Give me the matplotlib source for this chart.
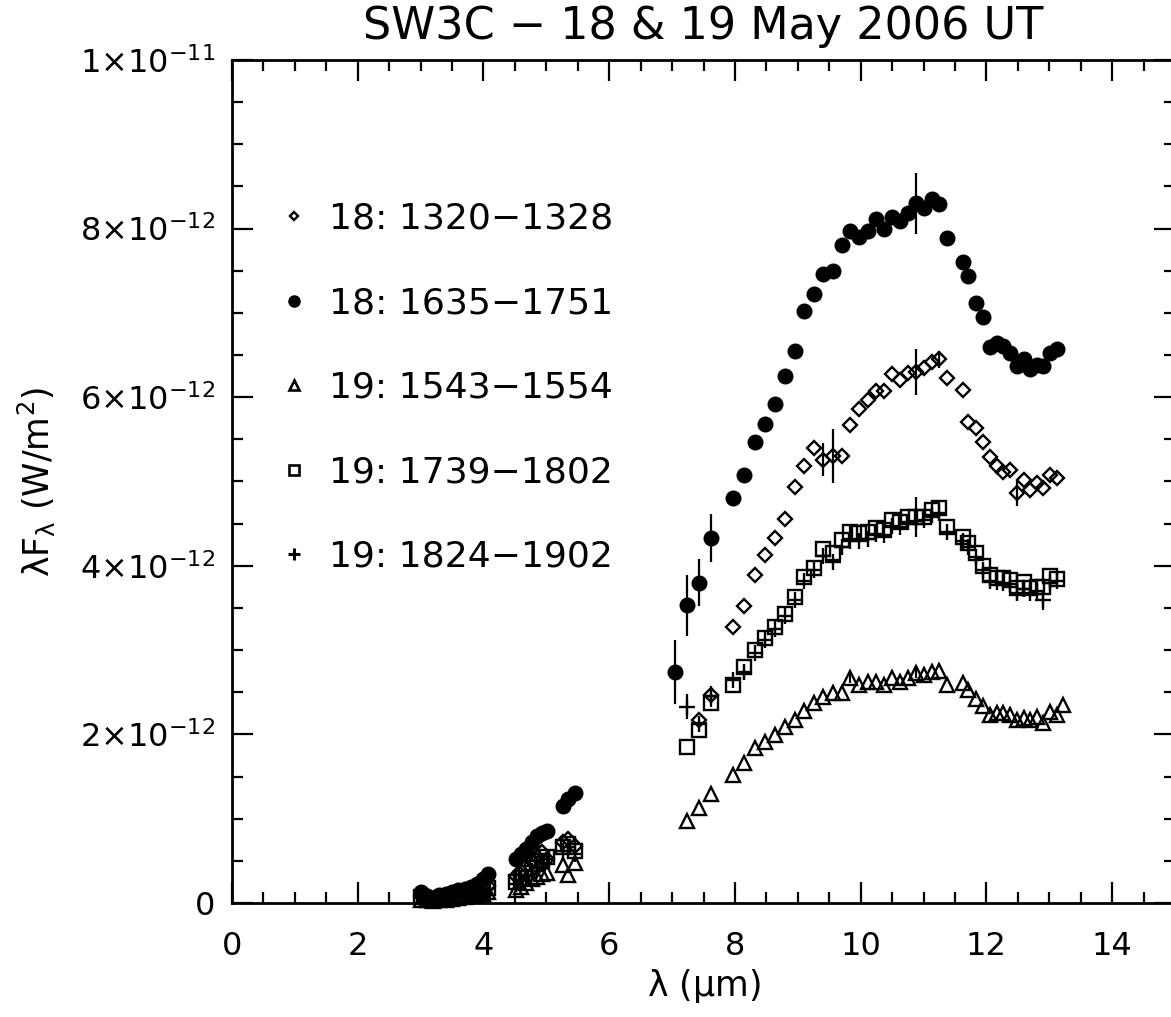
import numpy as np
import matplotlib
matplotlib.use("Agg")
import matplotlib.pyplot as plt
from matplotlib.lines import Line2D
from matplotlib.ticker import FixedLocator, FuncFormatter

plt.rcParams['font.family'] = ['DejaVu Sans']
plt.rcParams['mathtext.default'] = 'regular'
plt.rcParams['mathtext.fontset'] = 'dejavusans'

nan = np.nan

# wavelength grid (micron): 3-4 um, 4.5-5.5 um, 7-13 um segments
wl_short = [3.00, 3.10, 3.20, 3.30, 3.40, 3.50, 3.60, 3.70, 3.80, 3.90, 4.00, 4.07]
wl_mid = [4.52, 4.60, 4.68, 4.77, 4.85, 4.93, 5.01, 5.27, 5.35, 5.45]
wl_long = [7.05, 7.24, 7.43, 7.62, 7.97, 8.15, 8.32, 8.48, 8.64, 8.80,
           8.96, 9.10, 9.25, 9.40, 9.56, 9.71, 9.83, 9.98, 10.11, 10.24,
           10.37, 10.50, 10.63, 10.76, 10.88, 11.01, 11.14, 11.25, 11.38, 11.62,
           11.71, 11.84, 11.95, 12.06, 12.17, 12.27, 12.38, 12.49, 12.60, 12.70,
           12.81, 12.90, 13.01, 13.12, 13.22]

# lambda F_lambda in units of 1e-12 W/m^2
# 18: 1320-1328 (diamond)
d18a_short = [0.08, 0.05, 0.04, 0.06, 0.08, 0.09, 0.10, 0.12, 0.13, 0.15, 0.18, 0.20]
d18a_mid = [0.32, 0.38, 0.44, 0.50, 0.55, 0.60, 0.52, 0.72, 0.76, 0.68]
d18a_long = [nan, nan, 2.17, 2.47, 3.27, 3.52, 3.89, 4.13, 4.33, 4.56,
             4.93, 5.18, 5.40, 5.26, 5.30, 5.30, 5.67, 5.86, 5.97, 6.07,
             6.07, 6.27, 6.20, 6.29, 6.30, 6.35, 6.42, 6.45, 6.23, 6.09,
             5.71, 5.63, 5.47, 5.29, 5.18, 5.11, 5.14, 4.86, 5.02, 4.90,
             4.98, 4.92, 5.08, 5.04, nan]
# 18: 1635-1751 (filled circle)
d18b_short = [0.13, 0.08, 0.06, 0.09, 0.11, 0.13, 0.15, 0.17, 0.19, 0.22, 0.28, 0.34]
d18b_mid = [0.52, 0.58, 0.64, 0.72, 0.80, 0.83, 0.86, 1.15, 1.23, 1.30]
d18b_long = [2.74, 3.53, 3.80, 4.33, 4.80, 5.08, 5.47, 5.68, 5.92, 6.25,
             6.55, 7.02, 7.22, 7.46, 7.50, 7.80, 7.97, 7.90, 7.97, 8.11,
             7.99, 8.14, 8.09, 8.18, 8.30, 8.24, 8.35, 8.29, 7.89, 7.60,
             7.44, 7.12, 6.95, 6.60, 6.64, 6.61, 6.52, 6.37, 6.45, 6.33,
             6.38, 6.37, 6.52, 6.57, nan]
# 19: 1543-1554 (triangle)
d19a_short = [0.04, 0.03, 0.02, 0.03, 0.04, 0.05, 0.06, 0.07, 0.08, 0.09, 0.11, 0.13]
d19a_mid = [0.15, 0.19, 0.24, 0.28, 0.31, 0.34, 0.36, 0.45, 0.33, 0.48]
d19a_long = [nan, 0.97, 1.13, 1.29, 1.52, 1.66, 1.84, 1.91, 1.99, 2.09,
             2.17, 2.28, 2.37, 2.44, 2.49, 2.49, 2.67, 2.59, 2.62, 2.62,
             2.59, 2.67, 2.62, 2.67, 2.73, 2.70, 2.74, 2.75, 2.59, 2.61,
             2.53, 2.42, 2.34, 2.23, 2.25, 2.25, 2.23, 2.17, 2.20, 2.17,
             2.21, 2.13, 2.27, 2.23, 2.35]
# 19: 1739-1802 (square)
d19b_short = [0.07, 0.05, 0.04, 0.05, 0.07, 0.08, 0.09, 0.10, 0.12, 0.13, 0.16, 0.18]
d19b_mid = [0.25, 0.30, 0.35, 0.41, 0.46, 0.50, 0.55, 0.66, 0.70, 0.62]
d19b_long = [nan, 1.85, 2.05, 2.37, 2.59, 2.80, 3.00, 3.14, 3.27, 3.43,
             3.63, 3.87, 3.97, 4.20, 4.15, 4.31, 4.40, 4.39, 4.40, 4.45,
             4.43, 4.54, 4.52, 4.58, 4.58, 4.58, 4.66, 4.69, 4.46, 4.34,
             4.27, 4.15, 4.00, 3.89, 3.85, 3.85, 3.83, 3.74, 3.81, 3.74,
             3.75, 3.75, 3.88, 3.84, nan]
# 19: 1824-1902 (plus)
d19c_short = [0.06, 0.04, 0.03, 0.05, 0.06, 0.07, 0.08, 0.09, 0.11, 0.12, 0.15, 0.17]
d19c_mid = [0.22, 0.27, 0.32, 0.38, 0.43, 0.47, 0.52, 0.62, 0.67, 0.58]
d19c_long = [nan, 2.33, 2.12, 2.45, 2.65, 2.74, 2.97, 3.12, 3.25, 3.40,
             3.60, 3.82, 3.95, 4.12, 4.04, 4.22, 4.30, 4.30, 4.32, 4.38,
             4.36, 4.47, 4.46, 4.52, 4.53, 4.54, 4.60, 4.63, 4.40, 4.30,
             4.22, 4.10, 3.95, 3.82, 3.81, 3.80, 3.78, 3.68, 3.72, 3.68,
             3.70, 3.59, 3.80, 3.82, nan]

# visible error bars (1e-12 W/m^2), only on a few points of the long segment
err_18b = {7.05: 0.38, 7.24: 0.36, 7.43: 0.28, 7.62: 0.28, 7.97: 0.08,
           8.15: 0.08, 9.56: 0.08, 9.71: 0.08, 10.88: 0.36}
err_18a = {9.40: 0.20, 9.56: 0.32, 10.88: 0.27, 12.49: 0.15, 11.25: 0.1}
err_19b = {10.88: 0.24, 9.83: 0.1, 12.49: 0.1}
err_19c = {7.24: 0.15, 7.62: 0.12, 8.15: 0.1, 12.90: 0.12, 12.49: 0.1}
err_19a = {9.83: 0.06, 10.88: 0.06}

labels = ['18: 1320\u22121328', '18: 1635\u22121751', '19: 1543\u22121554',
          '19: 1739\u22121802', '19: 1824\u22121902']

# axis ticks
x_major = [0, 2, 4, 6, 8, 10, 12, 14]
y_major = [0, 2e-12, 4e-12, 6e-12, 8e-12, 1e-11]


def plot_series(ax, short, mid, long, errs, marker, ms, filled):
    x = np.array(wl_short + wl_mid + wl_long)
    y = np.array(short + mid + long) * 1e-12
    yerr = np.array([errs.get(w, 0.0) for w in x]) * 1e-12
    ok = ~np.isnan(y)
    ax.errorbar(x[ok], y[ok], yerr=yerr[ok], fmt=marker, ms=ms,
                mfc='black' if filled else 'none', mec='black', mew=1.7,
                ecolor='black', elinewidth=1.6, capsize=0, clip_on=False)


def yfmt(v, pos):
    if v < 1e-20:
        return '0'
    e = int(np.floor(np.log10(v) + 1e-9))
    m = v / 10 ** e
    return r'$%d{\times}10^{%d}$' % (round(m), e)


def main():
    fig = plt.figure(figsize=(11.71, 10.17), dpi=100)
    ax = fig.add_axes([232 / 1171, 1 - 903 / 1017, 943 / 1171, 843 / 1017])

    plot_series(ax, d18a_short, d18a_mid, d18a_long, err_18a, 'D', 7.2, False)
    plot_series(ax, d18b_short, d18b_mid, d18b_long, err_18b, 'o', 9.8, True)
    plot_series(ax, d19a_short, d19a_mid, d19a_long, err_19a, '^', 10.2, False)
    plot_series(ax, d19b_short, d19b_mid, d19b_long, err_19b, 's', 10.0, False)
    plot_series(ax, d19c_short, d19c_mid, d19c_long, err_19c, '+', 11.0, False)

    ax.set_xlim(0, 15)
    ax.set_ylim(0, 1e-11)
    ax.xaxis.set_major_locator(FixedLocator(x_major))
    ax.xaxis.set_minor_locator(FixedLocator(np.arange(0, 15.01, 0.5)))
    ax.yaxis.set_major_locator(FixedLocator(y_major))
    ax.yaxis.set_minor_locator(FixedLocator(np.arange(0, 10.01, 0.5) * 1e-12))
    ax.yaxis.set_major_formatter(FuncFormatter(yfmt))
    ax.yaxis.offsetText.set_visible(False)

    ax.tick_params(which='both', direction='in', top=True, right=True,
                   width=1.6, labelsize=23)
    ax.tick_params(which='major', length=15)
    ax.tick_params(which='minor', length=8)
    ax.tick_params(axis='x', pad=20)
    ax.tick_params(axis='y', pad=12)
    for s in ax.spines.values():
        s.set_linewidth(2)

    ax.set_title('SW3C \u2212 18 & 19 May 2006 UT', fontsize=32, pad=15)
    ax.set_xlabel(r'$\lambda$ ($\mu$m)', fontsize=25, labelpad=4)
    ax.set_ylabel(r'$\lambda F_{\lambda}$ (W/m$^2$)', fontsize=25, labelpad=16)

    handles = [
        Line2D([], [], ls='none', marker='D', ms=4.4, mfc='none', mec='black', mew=1.7),
        Line2D([], [], ls='none', marker='o', ms=8, mfc='black', mec='black'),
        Line2D([], [], ls='none', marker='^', ms=7.5, mfc='none', mec='black', mew=1.9),
        Line2D([], [], ls='none', marker='s', ms=7, mfc='none', mec='black', mew=1.9),
        Line2D([], [], ls='none', marker='+', ms=8, mec='black', mew=2.2),
    ]
    ax.legend(handles, labels, loc='upper left', bbox_to_anchor=(0.047, 0.832),
              frameon=False, fontsize=26, handlelength=1.0, handletextpad=0.45,
              labelspacing=1.4, borderpad=0, borderaxespad=0)

    fig.savefig('out.png', dpi=100)


if __name__ == '__main__':
    main()
